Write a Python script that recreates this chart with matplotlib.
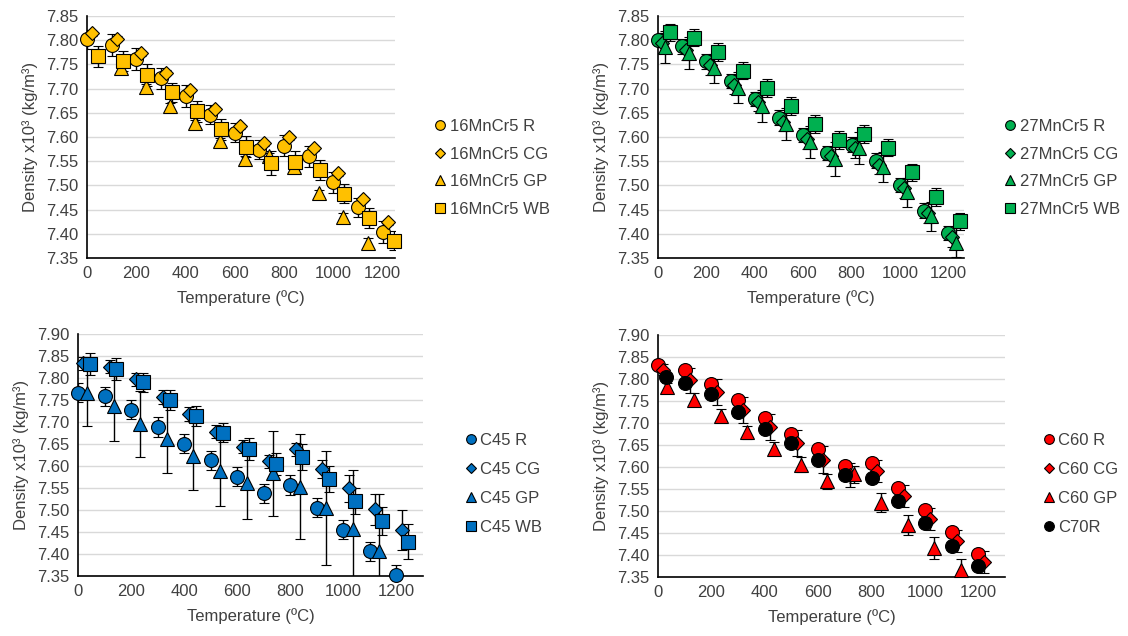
import matplotlib
matplotlib.use('Agg')
import matplotlib.pyplot as plt
from matplotlib.lines import Line2D

plt.rcParams['font.family'] = ['Liberation Sans', 'DejaVu Sans']

# ---- 16MnCr5 (top left) ----
t16_R = [0, 100, 200, 300, 400, 500, 600, 700, 800, 900, 1000, 1100, 1200]
d16_R = [7.802, 7.790, 7.761, 7.721, 7.685, 7.646, 7.609, 7.574, 7.582, 7.560, 7.506, 7.455, 7.404]
e16_R = [0.02, 0.022, 0.022, 0.022, 0.022, 0.02, 0.02, 0.02, 0.022, 0.022, 0.022, 0.02, 0.022]
t16_CG = [20, 120, 220, 320, 420, 520, 620, 720, 820, 920, 1020, 1120, 1220]
d16_CG = [7.814, 7.803, 7.773, 7.733, 7.697, 7.658, 7.622, 7.587, 7.599, 7.577, 7.525, 7.472, 7.424]
e16_CG = [0.005] * 13
t16_GP = [140, 240, 335, 440, 540, 640, 740, 840, 940, 1040, 1140]
d16_GP = [7.742, 7.703, 7.664, 7.629, 7.591, 7.554, 7.561, 7.539, 7.485, 7.435, 7.382]
e16_GP = [0.006, 0.006, 0.006, 0.006, 0.006, 0.006, 0.006, 0.006, 0.006, 0.008, 0.01]
t16_WB = [45, 145, 245, 345, 445, 545, 645, 745, 845, 945, 1045, 1145, 1245]
d16_WB = [7.767, 7.757, 7.728, 7.692, 7.653, 7.616, 7.580, 7.546, 7.549, 7.532, 7.483, 7.433, 7.386]
e16_WB = [0.022, 0.02, 0.022, 0.02, 0.022, 0.022, 0.022, 0.025, 0.022, 0.02, 0.02, 0.02, 0.02]

# ---- 27MnCr5 (top right) ----
t27_R = [0, 100, 200, 300, 400, 500, 600, 700, 800, 900, 1000, 1100, 1200]
d27_R = [7.800, 7.787, 7.756, 7.716, 7.679, 7.640, 7.604, 7.567, 7.584, 7.551, 7.501, 7.448, 7.402]
e27_R = [0.015] * 13
t27_CG = [15, 115, 215, 315, 415, 515, 615, 715, 815, 915, 1015, 1115, 1215]
d27_CG = [7.794, 7.780, 7.749, 7.708, 7.673, 7.632, 7.596, 7.560, 7.577, 7.543, 7.494, 7.443, 7.393]
e27_CG = [0.02] * 13
t27_GP = [30, 130, 230, 330, 430, 530, 630, 730, 830, 930, 1030, 1130, 1230]
d27_GP = [7.785, 7.773, 7.742, 7.702, 7.664, 7.626, 7.590, 7.554, 7.578, 7.538, 7.486, 7.436, 7.382]
e27_GP = [0.033, 0.033, 0.03, 0.032, 0.033, 0.033, 0.033, 0.035, 0.033, 0.03, 0.03, 0.03, 0.03]
t27_WB = [50, 150, 250, 350, 450, 550, 650, 750, 850, 950, 1050, 1150, 1250]
d27_WB = [7.816, 7.805, 7.776, 7.737, 7.701, 7.664, 7.627, 7.594, 7.606, 7.578, 7.527, 7.476, 7.426]
e27_WB = [0.018] * 13

# ---- C45 (bottom left) ----
t45_R = [0, 100, 200, 300, 400, 500, 600, 700, 800, 900, 1000, 1100, 1200]
d45_R = [7.767, 7.758, 7.728, 7.689, 7.651, 7.613, 7.576, 7.538, 7.557, 7.505, 7.455, 7.406, 7.352]
e45_R = [0.022] * 13
t45_CG = [20, 120, 220, 320, 420, 520, 620, 720, 820, 920, 1020, 1120, 1220]
d45_CG = [7.833, 7.826, 7.797, 7.757, 7.718, 7.678, 7.644, 7.611, 7.638, 7.593, 7.549, 7.502, 7.455]
e45_CG = [0.015, 0.015, 0.015, 0.015, 0.015, 0.015, 0.015, 0.015, 0.015, 0.02, 0.03, 0.035, 0.045]
t45_GP = [35, 135, 235, 335, 435, 535, 635, 735, 835, 935, 1035, 1135]
d45_GP = [7.765, 7.736, 7.695, 7.661, 7.623, 7.589, 7.562, 7.583, 7.553, 7.505, 7.456, 7.406]
e45_GP = [0.075, 0.08, 0.075, 0.078, 0.077, 0.08, 0.083, 0.097, 0.12, 0.13, 0.135, 0.13]
t45_WB = [45, 145, 245, 345, 445, 545, 645, 745, 845, 945, 1045, 1145, 1245]
d45_WB = [7.831, 7.820, 7.790, 7.750, 7.714, 7.676, 7.639, 7.605, 7.621, 7.570, 7.521, 7.475, 7.428]
e45_WB = [0.025, 0.025, 0.022, 0.022, 0.022, 0.022, 0.025, 0.025, 0.03, 0.03, 0.03, 0.032, 0.04]

# ---- C60 / C70 (bottom right) ----
t60_R = [0, 100, 200, 300, 400, 500, 600, 700, 800, 900, 1000, 1100, 1200]
d60_R = [7.832, 7.821, 7.789, 7.752, 7.711, 7.676, 7.640, 7.602, 7.608, 7.553, 7.502, 7.453, 7.402]
e60_R = [0.005] * 13
t60_CG = [20, 120, 220, 320, 420, 520, 620, 720, 820, 920, 1020, 1120, 1220]
d60_CG = [7.821, 7.797, 7.770, 7.729, 7.691, 7.654, 7.617, 7.582, 7.590, 7.535, 7.482, 7.432, 7.384]
e60_CG = [0.012, 0.028, 0.03, 0.03, 0.03, 0.03, 0.03, 0.028, 0.025, 0.025, 0.025, 0.025, 0.025]
t60_GP = [35, 135, 235, 335, 435, 535, 635, 735, 835, 935, 1035, 1135]
d60_GP = [7.781, 7.753, 7.717, 7.679, 7.642, 7.605, 7.568, 7.583, 7.519, 7.468, 7.416, 7.367]
e60_GP = [0.01, 0.015, 0.015, 0.015, 0.015, 0.017, 0.017, 0.02, 0.022, 0.022, 0.025, 0.025]
t70_R = [30, 100, 200, 300, 400, 500, 600, 700, 800, 900, 1000, 1100, 1200]
d70_R = [7.804, 7.791, 7.765, 7.725, 7.687, 7.654, 7.617, 7.581, 7.576, 7.523, 7.473, 7.421, 7.376]
e70_R = [0.005] * 13

W, H = 1128, 636
fig = plt.figure(figsize=(W / 100, H / 100), dpi=100)

GOLD = '#FFC000'
GREEN = '#00B050'
BLUE = '#0070C0'
RED = '#FF0000'
ms_of = {'o': 10, 'D': 7, '^': 9.5, 's': 9.5}


def panel(box, ylim, yticks, series, leg_xy, leg_sp):
    l, t, r, b = box
    ax = fig.add_axes([l / W, 1 - b / H, (r - l) / W, (b - t) / H])
    handles = []
    for x, y, e, mk, fc, lab in series:
        eb = ax.errorbar(x, y, yerr=e, fmt=mk, ms=ms_of[mk], mfc=fc, mec='black', mew=0.8,
                         ecolor='black', elinewidth=1, capsize=3.5, capthick=1, zorder=3)
        eb[0].set_clip_on(False)  # markers on the axes edge are drawn whole
        handles.append(Line2D([], [], marker=mk, ls='none', ms=ms_of[mk] * 0.7,
                              mfc=fc, mec='black', mew=0.8, label=lab))
    ax.set_ylim(*ylim)
    ax.set_yticks(yticks)
    ax.set_yticklabels(['%.2f' % v for v in yticks])
    ax.set_xticks([0, 200, 400, 600, 800, 1000, 1200])
    ax.grid(axis='y', color='#D9D9D9', lw=1)
    ax.set_axisbelow(True)
    for s in ['top', 'right']:
        ax.spines[s].set_visible(False)
    for s in ['left', 'bottom']:
        ax.spines[s].set_color('black')
        ax.spines[s].set_linewidth(1.2)
    ax.tick_params(length=0, labelsize=12, labelcolor='#404040', pad=6)
    ax.set_xlabel('Temperature (ºC)', fontsize=12, color='#404040', labelpad=6)
    ax.set_ylabel('Density x10³ (kg/m³)', fontsize=12, color='#404040', labelpad=6)
    fig.legend(handles=handles, loc='center left', bbox_to_anchor=(leg_xy[0] / W, 1 - leg_xy[1] / H),
               frameon=False, fontsize=12, handlelength=0.6, handletextpad=0.25,
               labelspacing=leg_sp, borderpad=0, labelcolor='#404040')
    return ax


ax1 = panel((87, 16, 395, 258), (7.35, 7.85), [7.35, 7.40, 7.45, 7.50, 7.55, 7.60, 7.65, 7.70, 7.75, 7.80, 7.85],
            [(t16_R, d16_R, e16_R, 'o', GOLD, '16MnCr5 R'),
             (t16_CG, d16_CG, e16_CG, 'D', GOLD, '16MnCr5 CG'),
             (t16_GP, d16_GP, e16_GP, '^', GOLD, '16MnCr5 GP'),
             (t16_WB, d16_WB, e16_WB, 's', GOLD, '16MnCr5 WB')], (427, 168), 0.75)
ax1.set_xlim(0, 1250)

ax2 = panel((658, 16, 964, 258), (7.35, 7.85), [7.35, 7.40, 7.45, 7.50, 7.55, 7.60, 7.65, 7.70, 7.75, 7.80, 7.85],
            [(t27_R, d27_R, e27_R, 'o', GREEN, '27MnCr5 R'),
             (t27_CG, d27_CG, e27_CG, 'D', GREEN, '27MnCr5 CG'),
             (t27_GP, d27_GP, e27_GP, '^', GREEN, '27MnCr5 GP'),
             (t27_WB, d27_WB, e27_WB, 's', GREEN, '27MnCr5 WB')], (997, 168), 0.75)
ax2.set_xlim(0, 1265)

ax3 = panel((78, 334, 423, 576), (7.35, 7.90), [7.35, 7.40, 7.45, 7.50, 7.55, 7.60, 7.65, 7.70, 7.75, 7.80, 7.85, 7.90],
            [(t45_R, d45_R, e45_R, 'o', BLUE, 'C45 R'),
             (t45_CG, d45_CG, e45_CG, 'D', BLUE, 'C45 CG'),
             (t45_GP, d45_GP, e45_GP, '^', BLUE, 'C45 GP'),
             (t45_WB, d45_WB, e45_WB, 's', BLUE, 'C45 WB')], (458, 484), 0.84)
ax3.set_xlim(0, 1300)

ax4 = panel((658, 335, 1005, 577), (7.35, 7.90), [7.35, 7.40, 7.45, 7.50, 7.55, 7.60, 7.65, 7.70, 7.75, 7.80, 7.85, 7.90],
            [(t60_R, d60_R, e60_R, 'o', RED, 'C60 R'),
             (t60_CG, d60_CG, e60_CG, 'D', RED, 'C60 CG'),
             (t60_GP, d60_GP, e60_GP, '^', RED, 'C60 GP'),
             (t70_R, d70_R, e70_R, 'o', 'black', 'C70R')], (1036, 484), 0.84)
ax4.set_xlim(0, 1300)

fig.savefig('out.png', dpi=100)
